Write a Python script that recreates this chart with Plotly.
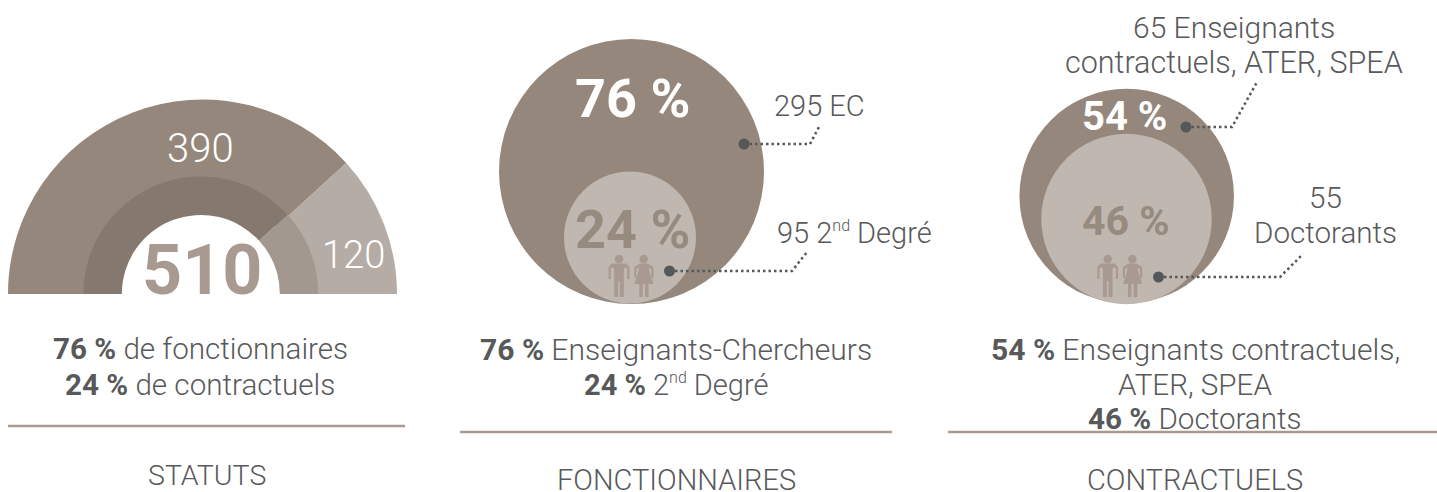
import plotly.graph_objects as go

W, H = 1437, 492

# ---- data ----
statuts_labels = ["fonctionnaires", "contractuels"]
statuts_values = [390, 120]
statuts_pct = [76, 24]
fonction_labels = ["EC", "2nd Degré"]
fonction_values = [295, 95]
fonction_pct = [76, 24]
contrat_labels = ["Enseignants contractuels, ATER, SPEA", "Doctorants"]
contrat_values = [65, 55]
contrat_pct = [54, 46]

# ---- style ----
BROWN = "#95877b"
BROWN_L = "#b5aca5"
RING = "#85786f"
RING_L = "#a2988f"
TOTAL = "#a89a91"
PALE = "#c0b7b0"
MID = "#978a7f"
INK = "#58595b"
DOT = "#55585a"
FONT = "Roboto"
TXT = 29.6
SUP = '2<sup><span style="font-size:16px">nd</span></sup>'

fig = go.Figure()


def half_donut(cx, base_y, r_out, r_hole, colors):
    total = sum(statuts_values)
    fig.add_trace(go.Pie(
        values=statuts_values + [total], sort=False, direction="clockwise", rotation=270,
        hole=r_hole / r_out, textinfo="none", hoverinfo="skip", showlegend=False,
        marker=dict(colors=colors + ["rgba(0,0,0,0)"], line=dict(width=0)),
        domain=dict(x=[(cx - r_out) / W, (cx + r_out) / W],
                    y=[1 - (base_y + r_out) / H, 1 - (base_y - r_out) / H]),
    ))


half_donut(202.5, 294, 194.5, 100, [BROWN, BROWN_L])
half_donut(200.8, 294, 117.5, 79, [RING, RING_L])


def circle(cx, cy, d, color):
    fig.add_trace(go.Scatter(x=[cx], y=[cy], mode="markers", hoverinfo="skip", showlegend=False,
                             marker=dict(size=d, color=color, line=dict(width=0))))


circle(631.5, 171.5, 265, BROWN)
circle(630, 237.5, 132, PALE)
circle(1126.7, 196, 214.5, BROWN)
circle(1126.5, 219, 170.5, PALE)


def leader(xs, ys):
    fig.add_trace(go.Scatter(x=xs, y=ys, mode="lines", hoverinfo="skip", showlegend=False,
                             line=dict(color=DOT, width=2.5, dash="2.5px,3px")))
    fig.add_trace(go.Scatter(x=xs[:1], y=ys[:1], mode="markers", hoverinfo="skip", showlegend=False,
                             marker=dict(size=11, color=DOT, line=dict(width=0))))


leader([744, 810, 819], [144, 144, 127])
leader([669.5, 792, 807], [271, 271, 252])
leader([1186, 1232, 1257], [127, 127, 82])
leader([1158.5, 1280, 1303], [277, 277, 254])


def rule(x0, x1, y):
    fig.add_shape(type="line", x0=x0, x1=x1, y0=y, y1=y, xref="x", yref="y",
                  line=dict(color=TOTAL, width=2.5))


rule(8, 405, 426)
rule(460, 892, 432)
rule(948, 1437, 432)


def people(dx):
    ICON = "#a89a91"
    man = [(612, 263.5), (626, 263.5), (629.4, 267), (629.4, 279), (627.2, 279), (627.2, 268.5), (625.5, 267),
           (623.8, 269), (623.8, 297), (619.8, 297), (619.8, 281), (618.2, 281), (618.2, 297), (614.2, 297),
           (614.2, 269), (612.5, 267), (610.8, 268.5), (610.8, 279), (608.6, 279), (608.6, 267)]
    woman = [(640, 263.5), (647.5, 263.5), (653.4, 267), (653.6, 278), (651.5, 278), (651.2, 269), (649.3, 267.5),
             (649.3, 271), (653.4, 284), (648.5, 284), (648.5, 297), (645, 297), (645, 284),
             (642.8, 284), (642.8, 297), (639.3, 297), (639.3, 284), (634.4, 284), (638.5, 271),
             (638.5, 267.5), (636.4, 269), (636.2, 278), (634.1, 278), (634.3, 267)]
    for pts in (man, woman):
        path = "M " + " L ".join(f"{x + dx} {y}" for x, y in pts) + " Z"
        fig.add_shape(type="path", path=path, xref="x", yref="y", fillcolor=ICON, line=dict(width=0), layer="above")
    for hx in (619, 643.7):
        fig.add_shape(type="circle", x0=hx + dx - 4.3, x1=hx + dx + 4.3, y0=254.7, y1=263.3, xref="x", yref="y",
                      fillcolor=ICON, line=dict(width=0), layer="above")


people(0)
people(488.7)


def text(x, y, s, size=TXT, color=INK, weight=300):
    fig.add_annotation(x=x, y=y, xref="x", yref="y", text=s, showarrow=False, xanchor="center", yanchor="middle",
                       align="center", font=dict(family=FONT, size=size, color=color, weight=weight))


# big figures
text(200, 148, str(statuts_values[0]), 40, "white")
text(353, 255, str(statuts_values[1]), 38, "white")
text(202, 270, str(sum(statuts_values)), 70, TOTAL, 700)
text(632, 98, f"{fonction_pct[0]} %", 54, "white", 700)
text(632, 229, f"{fonction_pct[1]} %", 54, MID, 700)
text(1124, 116, f"{contrat_pct[0]} %", 40, "white", 700)
text(1126, 221, f"{contrat_pct[1]} %", 41, MID, 700)

# callouts
text(819, 106, f"{fonction_values[0]} {fonction_labels[0]}", 29)
text(854, 233, f"{fonction_values[1]} {SUP} Degré", 29)
text(1234, 27, f"{contrat_values[0]} Enseignants", 30)
text(1234, 62, "contractuels, ATER, SPEA", 30.5)
text(1325, 198, str(contrat_values[1]))
text(1325, 233, contrat_labels[1])

# captions
text(200, 349, f"<b>{statuts_pct[0]} %</b> de {statuts_labels[0]}")
text(200, 385, f"<b>{statuts_pct[1]} %</b> de {statuts_labels[1]}")
text(207, 475, "STATUTS", 28.5)
text(676, 349, f"<b>{fonction_pct[0]} %</b> Enseignants-Chercheurs", 30)
text(676, 385, f"<b>{fonction_pct[1]} %</b> {SUP} Degré", 29)
text(676, 480, "FONCTIONNAIRES", 29)
text(1195.5, 349, f"<b>{contrat_pct[0]} %</b> Enseignants contractuels,", 30)
text(1195, 385, "ATER, SPEA")
text(1195, 419, f"<b>{contrat_pct[1]} %</b> Doctorants")
text(1195, 480, "CONTRACTUELS", 29)

fig.update_layout(
    width=W, height=H, margin=dict(l=0, r=0, t=0, b=0, autoexpand=False),
    paper_bgcolor="white", plot_bgcolor="rgba(0,0,0,0)", showlegend=False,
    xaxis=dict(range=[0, W], visible=False, fixedrange=True),
    yaxis=dict(range=[H, 0], visible=False, fixedrange=True),
)
fig.write_html("out.html", config=dict(displayModeBar=False),
               post_script="document.body.style.margin='0';document.documentElement.style.overflow='hidden';")
